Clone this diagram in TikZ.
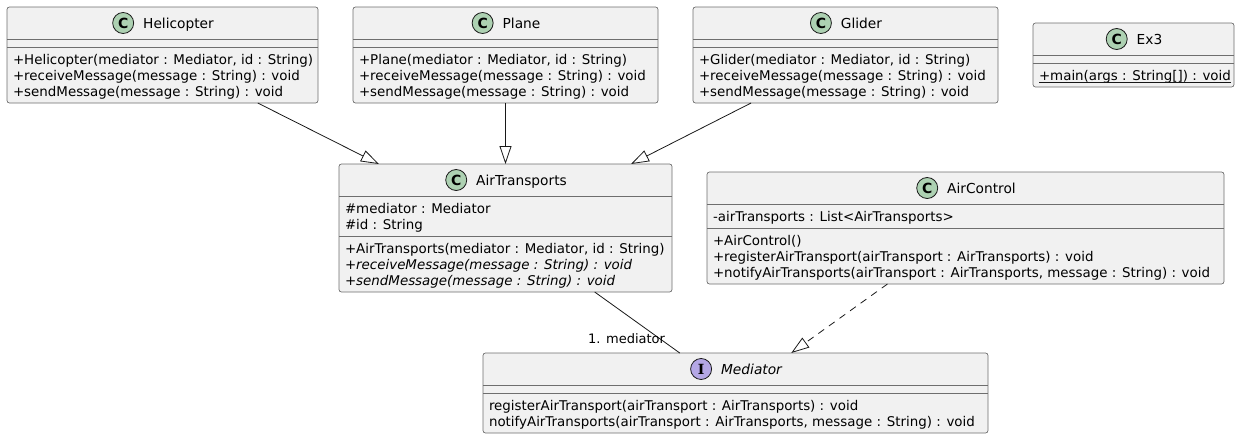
\documentclass[tikz,border=0pt]{standalone}
\usepackage{fontspec}
\setmainfont{DejaVu Sans}[ItalicFont={DejaVu Sans Oblique},BoldFont={DejaVu Sans Bold},BoldItalicFont={DejaVu Sans Bold Oblique}]
\newfontfamily\iconserif{DejaVu Serif Bold}
\usetikzlibrary{arrows.meta,positioning}
\definecolor{boxF}{HTML}{F1F1F1}
\definecolor{lineC}{HTML}{181818}
\definecolor{borderC}{HTML}{6E6E6E}
\definecolor{cFill}{HTML}{ADD1B2}
\definecolor{iFill}{HTML}{B4A7E5}
\begin{document}
\begin{tikzpicture}[x=1pt,y=-1pt,
  umlbox/.style={draw=borderC, line width=0.7pt, fill=boxF, rounded corners=2.5pt, inner sep=0pt, outer sep=0pt},
  sepline/.style={draw=borderC, line width=0.7pt},
  member/.style={inner sep=0pt, outer sep=0pt, anchor=base west, font=\fontsize{13.4pt}{16pt}\selectfont},
  ctitle/.style={inner sep=0pt, outer sep=0pt, text height=11pt, text depth=0pt, font=\fontsize{13.75pt}{16pt}\selectfont},
  cicon/.style={circle, draw=lineC, line width=0.8pt, fill=cFill, minimum size=21pt, inner sep=0pt, outer sep=0pt, text height=10pt, text depth=0pt, font=\fontsize{14pt}{14pt}\selectfont\bfseries},
  iicon/.style={cicon, fill=iFill, font=\fontsize{14pt}{14pt}\iconserif},
  inherit/.style={draw=lineC, line width=0.8pt, -{Triangle[open, length=18pt, width=12pt]}},
  realize/.style={inherit, dash pattern=on 7pt off 6pt},
  assoc/.style={draw=lineC, line width=0.8pt},
  lbl/.style={inner sep=0pt, outer sep=0pt, font=\fontsize{13pt}{15pt}\selectfont},
  uline/.style={draw=lineC, line width=0.7pt}
]
\useasboundingbox (0,0) rectangle (1240,439);

% ---------------- Helicopter
\node[umlbox, minimum width=311pt, minimum height=96pt] (heli) at (162.5,55) {};
\draw[sepline] (heli.west |- 0,39) -- (heli.east |- 0,39);
\draw[sepline] (heli.west |- 0,47) -- (heli.east |- 0,47);
\node[ctitle] (heliT) at (178.5,23) {Helicopter};
\node[cicon, left=9.5pt of heliT] (heliC) {C};
\node[member] (heliM1) at (13,64) {+Helicopter(mediator : Mediator, id : String)};
\node[member] (heliM2) at (13,80) {+receiveMessage(message : String) : void};
\node[member] (heliM3) at (13,96) {+sendMessage(message : String) : void};

% ---------------- Plane
\node[umlbox, minimum width=305pt, minimum height=96pt] (plane) at (505.5,55) {};
\draw[sepline] (plane.west |- 0,39) -- (plane.east |- 0,39);
\draw[sepline] (plane.west |- 0,47) -- (plane.east |- 0,47);
\node[ctitle] (planeT) at (521.5,23) {Plane};
\node[cicon, left=9.5pt of planeT] (planeC) {C};
\node[member] (planeM1) at (359,64) {+Plane(mediator : Mediator, id : String)};
\node[member] (planeM2) at (359,80) {+receiveMessage(message : String) : void};
\node[member] (planeM3) at (359,96) {+sendMessage(message : String) : void};

% ---------------- Glider
\node[umlbox, minimum width=305pt, minimum height=96pt] (glider) at (845.5,55) {};
\draw[sepline] (glider.west |- 0,39) -- (glider.east |- 0,39);
\draw[sepline] (glider.west |- 0,47) -- (glider.east |- 0,47);
\node[ctitle] (gliderT) at (861.5,23) {Glider};
\node[cicon, left=9.5pt of gliderT] (gliderC) {C};
\node[member] (gliderM1) at (699,64) {+Glider(mediator : Mediator, id : String)};
\node[member] (gliderM2) at (699,80) {+receiveMessage(message : String) : void};
\node[member] (gliderM3) at (699,96) {+sendMessage(message : String) : void};

% ---------------- Ex3
\node[umlbox, minimum width=201pt, minimum height=64pt] (ex3) at (1133.5,55) {};
\draw[sepline] (ex3.west |- 0,55) -- (ex3.east |- 0,55);
\draw[sepline] (ex3.west |- 0,63) -- (ex3.east |- 0,63);
\node[ctitle] (ex3T) at (1149.5,39) {Ex3};
\node[cicon, left=9.5pt of ex3T] (ex3C) {C};
\node[member] (ex3M1) at (1039,80) {+main(args : String[]) : void};
\draw[uline] ([yshift=-2.5pt]ex3M1.base west) -- ([yshift=-2.5pt]ex3M1.base east);

% ---------------- AirTransports
\node[umlbox, minimum width=333pt, minimum height=128pt] (airt) at (505.5,228) {};
\draw[sepline] (airt.west |- 0,196) -- (airt.east |- 0,196);
\draw[sepline] (airt.west |- 0,236) -- (airt.east |- 0,236);
\node[ctitle] (airtT) at (521.5,180) {AirTransports};
\node[cicon, left=9.5pt of airtT] (airtC) {C};
\node[member] (airtA1) at (345,213) {\#mediator : Mediator};
\node[member] (airtA2) at (345,229) {\#id : String};
\node[member] (airtM1) at (345,253) {+AirTransports(mediator : Mediator, id : String)};
\node[member] (airtM2) at (345,269) {\itshape +receiveMessage(message : String) : void};
\node[member] (airtM3) at (345,285) {\itshape +sendMessage(message : String) : void};

% ---------------- AirControl
\node[umlbox, minimum width=517pt, minimum height=112pt] (airc) at (965.5,228) {};
\draw[sepline] (airc.west |- 0,204) -- (airc.east |- 0,204);
\draw[sepline] (airc.west |- 0,228) -- (airc.east |- 0,228);
\node[ctitle] (aircT) at (981.5,188) {AirControl};
\node[cicon, left=9.5pt of aircT] (aircC) {C};
\node[member] (aircA1) at (713,221) {-airTransports : List<AirTransports>};
\node[member] (aircM1) at (713,245) {+AirControl()};
\node[member] (aircM2) at (713,261) {+registerAirTransport(airTransport : AirTransports) : void};
\node[member] (aircM3) at (713,277) {+notifyAirTransports(airTransport : AirTransports, message : String) : void};

% ---------------- Mediator
\node[umlbox, minimum width=505pt, minimum height=80pt] (med) at (735.5,393) {};
\draw[sepline] (med.west |- 0,385) -- (med.east |- 0,385);
\draw[sepline] (med.west |- 0,393) -- (med.east |- 0,393);
\node[ctitle, font=\fontsize{13.75pt}{16pt}\selectfont\itshape] (medT) at (751.5,369) {Mediator};
\node[iicon, left=9.5pt of medT] (medC) {I};
\node[member] (medM1) at (489,410) {registerAirTransport(airTransport : AirTransports) : void};
\node[member] (medM2) at (489,426) {notifyAirTransports(airTransport : AirTransports, message : String) : void};

% ---------------- Connectors
\draw[inherit] (heli) -- (airt);
\draw[inherit] (plane) -- (airt);
\draw[inherit] (glider) -- (airt);
\draw[assoc] (airt) -- (med);
\draw[realize] (airc) -- (med);
\node[lbl, anchor=base east] (medLbl) at (665,343) {1. mediator};
\end{tikzpicture}
\end{document}
